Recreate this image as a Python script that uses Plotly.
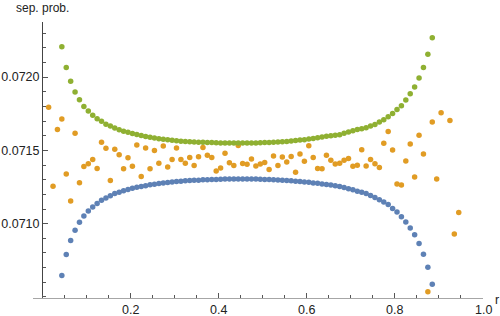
import plotly.graph_objects as go

# ---- data ----
r_curves = [0.045, 0.055, 0.065, 0.075, 0.085, 0.095, 0.105, 0.115, 0.125, 0.135,
            0.145, 0.155, 0.165, 0.175, 0.185, 0.195, 0.205, 0.215, 0.225, 0.235,
            0.245, 0.255, 0.265, 0.275, 0.285, 0.295, 0.305, 0.315, 0.325, 0.335,
            0.345, 0.355, 0.365, 0.375, 0.385, 0.395, 0.405, 0.415, 0.425, 0.435,
            0.445, 0.455, 0.465, 0.475, 0.485, 0.495, 0.505, 0.515, 0.525, 0.535,
            0.545, 0.555, 0.565, 0.575, 0.585, 0.595, 0.605, 0.615, 0.625, 0.635,
            0.645, 0.655, 0.665, 0.675, 0.685, 0.695, 0.705, 0.715, 0.725, 0.735,
            0.745, 0.755, 0.765, 0.775, 0.785, 0.795, 0.805, 0.815, 0.825, 0.835,
            0.845, 0.855, 0.865, 0.875, 0.885]

blue_vals = [0.070647, 0.070789, 0.070886, 0.070956, 0.071009, 0.071052, 0.071086, 0.071113, 0.071138, 0.071159,
             0.071175, 0.071191, 0.071205, 0.071215, 0.071224, 0.071233, 0.071241, 0.071248, 0.071254, 0.071259,
             0.071265, 0.071269, 0.071274, 0.071278, 0.071281, 0.071284, 0.071287, 0.071290, 0.071292, 0.071294,
             0.071296, 0.071297, 0.071299, 0.071300, 0.071302, 0.071302, 0.071303, 0.071304, 0.071304, 0.071304,
             0.071304, 0.071304, 0.071304, 0.071304, 0.071304, 0.071303, 0.071302, 0.071301, 0.071299, 0.071298,
             0.071297, 0.071295, 0.071293, 0.071290, 0.071287, 0.071284, 0.071282, 0.071278, 0.071275, 0.071271,
             0.071267, 0.071263, 0.071258, 0.071253, 0.071246, 0.071239, 0.071231, 0.071222, 0.071214, 0.071205,
             0.071193, 0.071179, 0.071164, 0.071147, 0.071130, 0.071104, 0.071079, 0.071048, 0.071011, 0.070970,
             0.070925, 0.070864, 0.070791, 0.070702, 0.070586]

green_vals = [0.072207, 0.072066, 0.071971, 0.071898, 0.071846, 0.071800, 0.071768, 0.071739, 0.071716, 0.071698,
              0.071679, 0.071666, 0.071652, 0.071640, 0.071631, 0.071623, 0.071615, 0.071608, 0.071601, 0.071595,
              0.071589, 0.071585, 0.071580, 0.071576, 0.071572, 0.071569, 0.071566, 0.071563, 0.071561, 0.071559,
              0.071557, 0.071556, 0.071555, 0.071553, 0.071553, 0.071552, 0.071551, 0.071551, 0.071551, 0.071550,
              0.071550, 0.071550, 0.071551, 0.071551, 0.071551, 0.071552, 0.071553, 0.071554, 0.071555, 0.071557,
              0.071559, 0.071561, 0.071564, 0.071567, 0.071570, 0.071573, 0.071577, 0.071581, 0.071586, 0.071591,
              0.071596, 0.071600, 0.071604, 0.071607, 0.071616, 0.071625, 0.071634, 0.071642, 0.071648, 0.071655,
              0.071666, 0.071677, 0.071693, 0.071709, 0.071730, 0.071752, 0.071778, 0.071805, 0.071843, 0.071887,
              0.071933, 0.071993, 0.072066, 0.072155, 0.072269]

r_orange = [0.015, 0.025, 0.035, 0.045, 0.055, 0.065, 0.075, 0.085, 0.095, 0.105,
            0.115, 0.125, 0.135, 0.145, 0.155, 0.165, 0.175, 0.185, 0.195, 0.205,
            0.215, 0.225, 0.235, 0.245, 0.255, 0.265, 0.275, 0.285, 0.295, 0.305,
            0.315, 0.325, 0.335, 0.345, 0.355, 0.365, 0.375, 0.385, 0.395, 0.405,
            0.415, 0.425, 0.435, 0.445, 0.455, 0.465, 0.475, 0.485, 0.495, 0.505,
            0.515, 0.525, 0.535, 0.545, 0.555, 0.565, 0.575, 0.585, 0.595, 0.605,
            0.615, 0.625, 0.635, 0.645, 0.655, 0.665, 0.675, 0.685, 0.695, 0.705,
            0.715, 0.725, 0.735, 0.745, 0.755, 0.765, 0.775, 0.785, 0.795, 0.805,
            0.815, 0.825, 0.835, 0.845, 0.855, 0.865, 0.875, 0.885, 0.895, 0.905,
            0.925, 0.935, 0.945]

orange_vals = [0.071795, 0.071256, 0.071643, 0.071714, 0.071338, 0.071154, 0.071616, 0.071280, 0.071390, 0.071409,
               0.071437, 0.071377, 0.071555, 0.071514, 0.071295, 0.071508, 0.071471, 0.071375, 0.071450, 0.071391,
               0.071536, 0.071321, 0.071516, 0.071375, 0.071500, 0.071413, 0.071529, 0.071386, 0.071437, 0.071516,
               0.071437, 0.071413, 0.071452, 0.071396, 0.071457, 0.071520, 0.071466, 0.071452, 0.071359, 0.071379,
               0.071480, 0.071416, 0.071396, 0.071534, 0.071411, 0.071405, 0.071441, 0.071393, 0.071407, 0.071418,
               0.071370, 0.071461, 0.071396, 0.071454, 0.071420, 0.071459, 0.071350, 0.071475, 0.071425, 0.071532,
               0.071452, 0.071377, 0.071375, 0.071466, 0.071432, 0.071407, 0.071413, 0.071432, 0.071445, 0.071391,
               0.071398, 0.071505, 0.071393, 0.071437, 0.071409, 0.071384, 0.071548, 0.071628, 0.071502, 0.071270,
               0.071263, 0.071427, 0.071543, 0.071318, 0.071604, 0.071475, 0.070536, 0.071693, 0.071304, 0.071757,
               0.071703, 0.070929, 0.071077, 0.071018]

x_tick_vals = [0.2, 0.4, 0.6, 0.8, 1.0]
x_tick_labels = ["0.2", "0.4", "0.6", "0.8", "1.0"]
y_tick_vals = [0.0710, 0.0715, 0.0720]
y_tick_labels = ["0.0710", "0.0715", "0.0720"]

BLUE = "#5E81B5"
ORANGE = "#E19C24"
GREEN = "#8FB032"
FONT = "Liberation Sans, Arial, sans-serif"
TXT = "#222222"

fig = go.Figure()
for xs, ys, col in [(r_curves, blue_vals, BLUE), (r_orange, orange_vals, ORANGE), (r_curves, green_vals, GREEN)]:
    fig.add_trace(go.Scatter(x=xs, y=ys, mode="markers",
                             marker=dict(size=5.5, color=col, line=dict(width=0)),
                             showlegend=False, hoverinfo="skip"))

L, R, T, B = 33, 17, 22, 18
annotations = [
    dict(text="sep. prob.", xref="x", yref="paper", x=0, y=1,
         xanchor="center", yanchor="bottom", yshift=5, showarrow=False,
         font=dict(size=12, color=TXT, family=FONT)),
    dict(text="r", xref="paper", yref="paper", x=1.0, y=0,
         xanchor="left", yanchor="middle", xshift=10, yshift=-2, showarrow=False,
         font=dict(size=12.5, color=TXT, family=FONT)),
]
for v, t in zip(x_tick_vals, x_tick_labels):
    annotations.append(dict(text=t, xref="x", yref="paper", x=v, y=0,
                            xanchor="center", yanchor="top", yshift=-3, showarrow=False,
                            font=dict(size=12.5, color=TXT, family=FONT)))

fig.update_layout(
    width=500, height=316,
    margin=dict(l=L, r=R, t=T, b=B, pad=0),
    paper_bgcolor="white", plot_bgcolor="white",
    font=dict(family=FONT, size=12, color=TXT),
    xaxis=dict(range=[-0.0204, 1.0], showgrid=False, zeroline=False,
               showline=True, linecolor="#a6a6a6", linewidth=1,
               tickmode="array", tickvals=x_tick_vals, ticktext=x_tick_labels,
               showticklabels=False,
               ticks="inside", ticklen=5, tickcolor="#555555", tickwidth=1,
               minor=dict(tickmode="linear", tick0=0, dtick=0.05, ticks="inside",
                          ticklen=3, tickcolor="#555555", showgrid=False),
               automargin=False),
    yaxis=dict(range=[0.070493, 0.0723757], showgrid=False, zeroline=False,
               anchor="free", position=9 / 450,
               showline=True, linecolor="#444444", linewidth=1,
               tickmode="array", tickvals=y_tick_vals, ticktext=y_tick_labels,
               ticks="inside", ticklen=5, tickcolor="#555555", tickwidth=1,
               minor=dict(tickmode="linear", tick0=0.0700, dtick=0.0001, ticks="inside",
                          ticklen=3, tickcolor="#555555", showgrid=False),
               tickfont=dict(size=12.5, color=TXT), automargin=False),
    annotations=annotations,
)

fig.write_html("out.html", config={"displayModeBar": False, "staticPlot": True},
               post_script="document.body.style.margin='0px';document.body.style.overflow='hidden';")
